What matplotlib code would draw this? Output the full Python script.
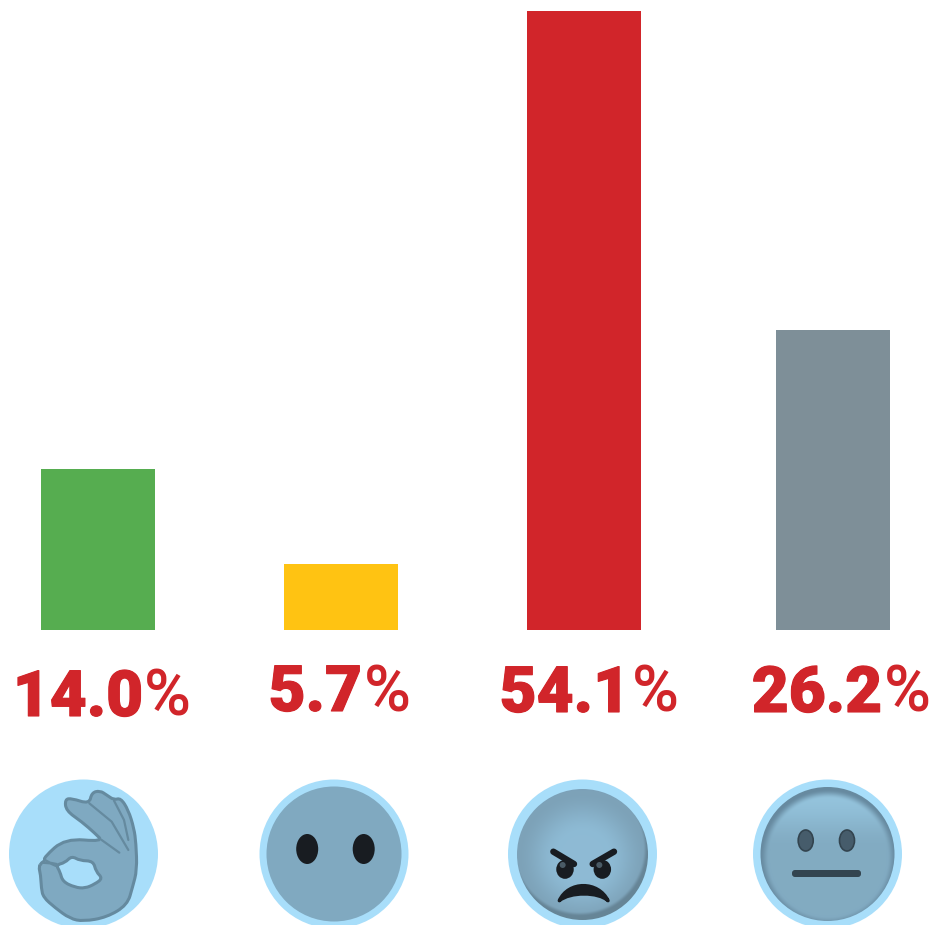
import numpy as np
import matplotlib
matplotlib.use('Agg')
import matplotlib.pyplot as plt
import matplotlib.patheffects as pe
from matplotlib.colors import to_rgb
from matplotlib.patches import Circle, Ellipse, FancyBboxPatch, PathPatch
from matplotlib.path import Path

# chart values
answers = ['ok', 'no mouth', 'angry', 'neutral']
shares = [14.07, 5.77, 54.1, 26.2]
share_numbers = ['14.0', '5.7', '54.1', '26.2']
bar_colors = ['#56AD50', '#FFC312', '#D1252A', '#7E8F98']

W, H = 935, 925
RED = '#D1252A'
HALO = '#A8DEFA'
FACE = '#80A9C0'
INK = '#181C21'
HAND_LINE = '#658A9F'

bar_left = [41, 284, 527, 776]
bar_width = 114
baseline = 630
px_per_pct = 619 / 54.1

number_right = [143, 362, 630, 882]
percent_x = [144, 364, 632, 884]
label_y = [716, 711, 712, 712]
halo_x = [83.5, 334, 582.5, 827.5]
halo_y = 854
halo_r = 74.5


def zoom_pts(pts, ox):
    return [(x / 3 + ox, y / 3 + 640) for x, y in pts]


def mix(a, b, t):
    a, b = np.array(to_rgb(a)), np.array(to_rgb(b))
    return a + (b - a) * t[..., None]


def step(e0, e1, v):
    t = np.clip((v - e0) / (e1 - e0), 0, 1)
    return t * t * (3 - 2 * t)


def paint_disc(ax, cx, cy, r, shade):
    xs = np.arange(cx - r - 1, cx + r + 1, 0.5)
    ys = np.arange(cy - r - 1, cy + r + 1, 0.5)
    X, Y = np.meshgrid(xs, ys)
    img = ax.imshow(shade(X, Y), extent=(xs[0], xs[-1], ys[-1], ys[0]), aspect='auto',
                    interpolation='bilinear', zorder=2)
    img.set_clip_path(Circle((cx, cy), r, transform=ax.transData))
    ax.set_xlim(0, W)
    ax.set_ylim(H, 0)


def smooth_closed(pts):
    # rounded outline: the points act as control points of quadratic curves
    pts = np.array(pts)
    mids = (pts + np.roll(pts, -1, axis=0)) / 2
    verts = [mids[-1]]
    codes = [Path.MOVETO]
    for p, m in zip(pts, mids):
        verts += [p, m]
        codes += [Path.CURVE3, Path.CURVE3]
    return verts, codes


def draw_ok(ax, cx):
    ax.add_patch(Circle((cx, halo_y), 67, fc=HALO, ec='none', zorder=1))
    outer = [(116, 680), (122, 705), (124, 745), (130, 772), (165, 803), (210, 836), (250, 844),
             (320, 832), (382, 795), (398, 740), (411, 690), (408, 610), (402, 565), (385, 510),
             (362, 474), (342, 480), (320, 465), (300, 452), (275, 458), (268, 492), (215, 475),
             (195, 478), (198, 512), (245, 545), (285, 580), (310, 605), (195, 595), (132, 652),
             (135, 662), (125, 668)]
    hole = [(168, 675), (195, 668), (215, 648), (240, 662), (280, 663), (288, 695), (308, 715),
            (285, 732), (255, 745), (225, 742), (188, 725), (180, 695)]
    v1, c1 = smooth_closed(zoom_pts(outer, 0))
    v2, c2 = smooth_closed(zoom_pts(hole, 0))
    ax.add_patch(PathPatch(Path(v1 + v2, c1 + c2), fc='#7FA9C1', ec=HAND_LINE, lw=2.2, zorder=3))
    for line in ([(305, 600), (358, 638)],
                 [(268, 490), (335, 545), (385, 630)],
                 [(342, 482), (372, 540), (385, 600)],
                 [(135, 660), (150, 668), (170, 672)],
                 [(125, 668), (150, 670), (168, 678)]):
        pts = np.array(zoom_pts(line, 0))
        ax.plot(pts[:, 0], pts[:, 1], color=HAND_LINE, lw=1.6, solid_capstyle='round', zorder=4)


def draw_blank(ax, cx):
    ax.add_patch(Circle((cx, halo_y), 67.5, fc=FACE, ec='none', zorder=2))
    for dx in (-26.5, 30):
        ax.add_patch(Ellipse((cx + dx - 0.3, 849), 22, 30, fc=INK, ec='none', zorder=3))


def draw_angry(ax, cx):
    def shade(X, Y):
        d = np.hypot(X - cx, Y - 858) / 66
        rgb = mix('#8EBBD5', '#7DA2B8', step(0.35, 1.0, d))
        rim = step(0.96, 1.03, np.hypot(X - cx + 3, Y - 849) / 66)
        return rgb * (1 - rim[..., None]) + np.array(to_rgb('#668597')) * rim[..., None]

    paint_disc(ax, cx, 854.5, 65.5, shade)
    ox = 470
    for bx, ex, eye, spark in ((250, 312, 285, 278), (432, 368, 397, 388)):
        ax.add_patch(Ellipse(zoom_pts([(eye, 688)], ox)[0], 17.5, 19, fc=INK, ec='none', zorder=3))
        pts = np.array(zoom_pts([(bx, 635), (ex, 672)], ox))
        ax.plot(pts[:, 0], pts[:, 1], color=INK, lw=4.6, solid_capstyle='round', zorder=3)
        ax.add_patch(Circle(zoom_pts([(spark, 675)], ox)[0], 3, fc='#4A5B66', ec='none', zorder=4))
    mouth = zoom_pts([(268, 782), (295, 722), (385, 722), (414, 782),
                      (385, 755), (300, 755), (268, 782), (268, 782)], ox)
    codes = [Path.MOVETO, Path.CURVE4, Path.CURVE4, Path.CURVE4,
             Path.CURVE4, Path.CURVE4, Path.CURVE4, Path.CLOSEPOLY]
    ax.add_patch(PathPatch(Path(mouth, codes), fc=INK, ec=INK, lw=2.5, joinstyle='round', zorder=3))


def draw_neutral(ax, cx):
    def shade(X, Y):
        rgb = mix('#94C3DC', '#82ABC2', step(796, 850, Y))
        rim = step(0.92, 1.06, np.hypot(X - cx, Y - 858) / 64)
        return rgb * (1 - rim[..., None]) + np.array(to_rgb('#678AA0')) * rim[..., None]

    paint_disc(ax, cx, halo_y, 67, shade)
    for x in (805.7, 847):
        ax.add_patch(Ellipse((x, 840.5), 15, 21, fc='#465C6B', ec='#33444F', lw=1.2, zorder=3))
    ax.add_patch(FancyBboxPatch((792, 870), 69, 7, boxstyle='round,pad=0,rounding_size=3',
                                fc='#33444F', ec='none', zorder=3))


fig = plt.figure(figsize=(W / 100, H / 100), dpi=100)

# bars: the axes span from the top of the picture down to the baseline
ax = fig.add_axes([0, 1 - baseline / H, 1, baseline / H])
ax.bar(bar_left, shares, width=bar_width, align='edge', color=bar_colors, linewidth=0)
ax.set_xlim(0, W)
ax.set_ylim(0, baseline / px_per_pct)
ax.axis('off')

# everything below the bars is placed in picture pixels
over = fig.add_axes([0, 0, 1, 1], facecolor='none')
over.set_xlim(0, W)
over.set_ylim(H, 0)
over.axis('off')

for s, xr, xp, y in zip(share_numbers, number_right, percent_x, label_y):
    over.text(xr, y, s, color=RED, fontsize=46, fontweight='black', family='Roboto',
              ha='right', va='baseline',
              path_effects=[pe.withStroke(linewidth=0.8, foreground=RED)])
    over.text(xp, y, '%', color=RED, fontsize=46, fontweight='medium', family='Roboto',
              ha='left', va='baseline')

for x in halo_x:
    over.add_patch(Circle((x, halo_y), halo_r, fc=HALO, ec='none', zorder=1))

draw_ok(over, halo_x[0])
draw_blank(over, halo_x[1])
draw_angry(over, halo_x[2])
draw_neutral(over, halo_x[3])

fig.savefig('out.png', dpi=100)
plt.close(fig)
